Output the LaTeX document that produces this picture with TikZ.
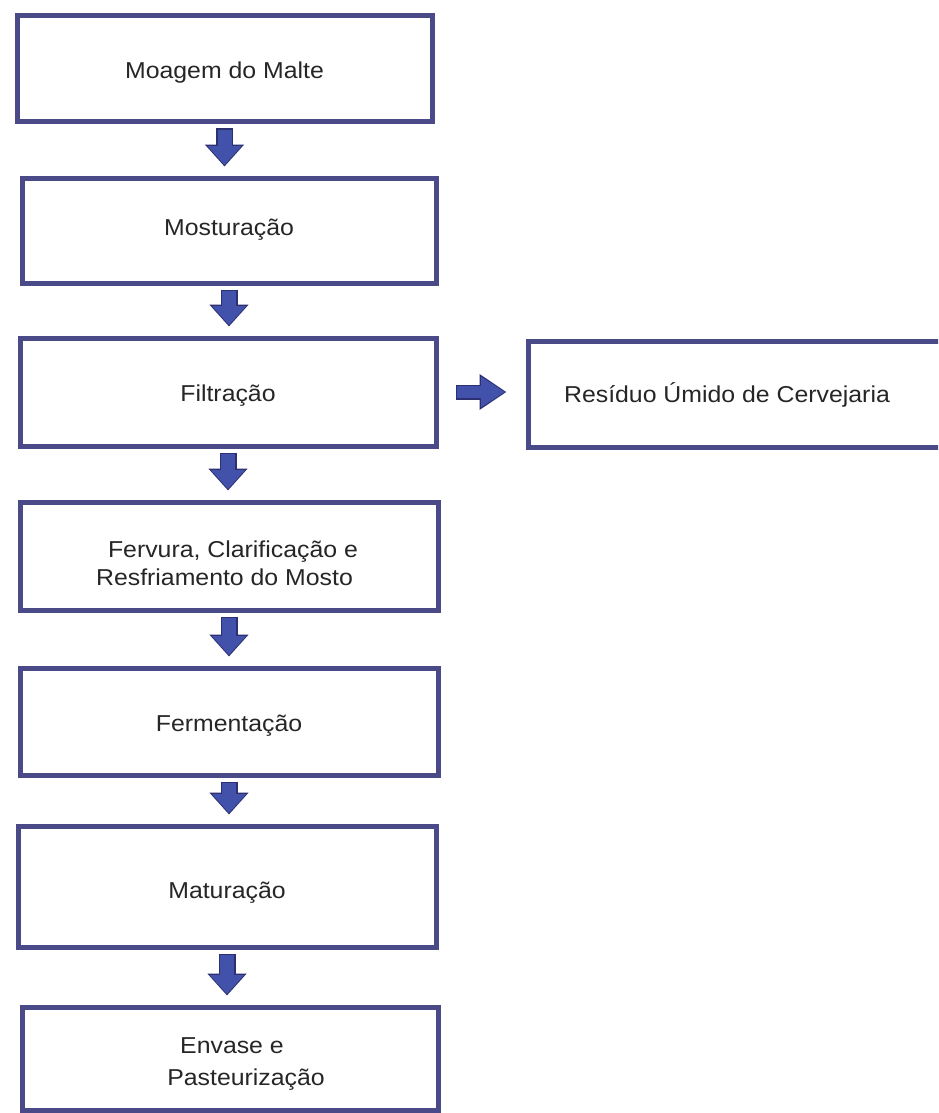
\documentclass[tikz,border=0pt]{standalone}
\usepackage{fontspec}
\setmainfont{Liberation Sans}[FakeStretch=1.08]
\usetikzlibrary{arrows.meta,calc}
\definecolor{boxborder}{HTML}{4A4A88}
\definecolor{arrowblue}{HTML}{4252AA}
\definecolor{arrowedge}{HTML}{2C3070}
\begin{document}
\begin{tikzpicture}[x=1pt,y=-1pt,
  stage/.style={draw=boxborder, line width=5pt, fill=white, inner sep=0pt},
  lbl/.style={align=center, text=black!85, inner sep=0pt, font=\fontsize{23}{30}\selectfont},
  flowdownedge/.style={draw=arrowedge, line width=17pt,
    -{Triangle[length=22pt,width=38pt,fill=arrowedge]}, shorten <=4pt, shorten >=9pt},
  flowdown/.style={draw=arrowblue, line width=14pt,
    -{Triangle[length=19pt,width=33pt,fill=arrowblue]}, shorten <=5.5pt, shorten >=10.5pt},
  flowrightedge/.style={draw=arrowedge, line width=15pt,
    -{Triangle[length=27pt,width=34pt,fill=arrowedge]}, shorten <=17pt, shorten >=19pt},
  flowright/.style={draw=arrowblue, line width=12pt,
    -{Triangle[length=24pt,width=29pt,fill=arrowblue]}, shorten <=18.5pt, shorten >=20.5pt}]
\useasboundingbox (0,0) rectangle (938,1113);
\fill[white] (0,0) rectangle (938,1113);
\clip (0,0) rectangle (938,1113);

\node[stage, minimum width=415pt, minimum height=106pt,
  label={[lbl,yshift=-4pt]center:Moagem do Malte}] (b1) at (224.5,69) {};
\node[stage, minimum width=414pt, minimum height=105pt,
  label={[lbl,yshift=1pt]center:Mosturação}] (b2) at (229,230.5) {};
\node[stage, minimum width=416pt, minimum height=108pt,
  label={[lbl,yshift=-4pt]center:Filtração}] (b3) at (228,392) {};
\node[stage, minimum width=432pt, minimum height=106pt,
  label={[lbl,xshift=-17pt,yshift=-1pt]center:Resíduo Úmido de Cervejaria}] (bR) at (744,394) {};
\node[stage, minimum width=418pt, minimum height=108pt,
  label={[lbl,yshift=-7pt,font=\fontsize{23}{28}\selectfont]center:{\hspace*{8pt}Fervura, Clarificação e\\Resfriamento do Mosto\hspace*{9pt}}}] (b4) at (229,556) {};
\node[stage, minimum width=418pt, minimum height=107pt,
  label={[lbl,yshift=-4pt]center:Fermentação}] (b5) at (229,721.5) {};
\node[stage, minimum width=418pt, minimum height=121pt,
  label={[lbl,yshift=-6pt]center:Maturação}] (b6) at (227,886.5) {};
\node[stage, minimum width=416pt, minimum height=103pt,
  label={[lbl,yshift=-6pt,font=\fontsize{23}{32}\selectfont]center:{\hspace*{4pt}Envase e\\\hspace*{32pt}Pasteurização}}] (b7) at (230,1058.5) {};

\foreach \a/\b in {b1/b2,b2/b3,b3/b4,b4/b5,b5/b6,b6/b7}{
  \draw[flowdownedge] (\a.south) -- (\a.south |- \b.north);
  \draw[flowdown] (\a.south) -- (\a.south |- \b.north);
}
\draw[flowrightedge] (b3.east) -- (b3.east -| bR.west);
\draw[flowright] (b3.east) -- (b3.east -| bR.west);
\end{tikzpicture}
\end{document}
